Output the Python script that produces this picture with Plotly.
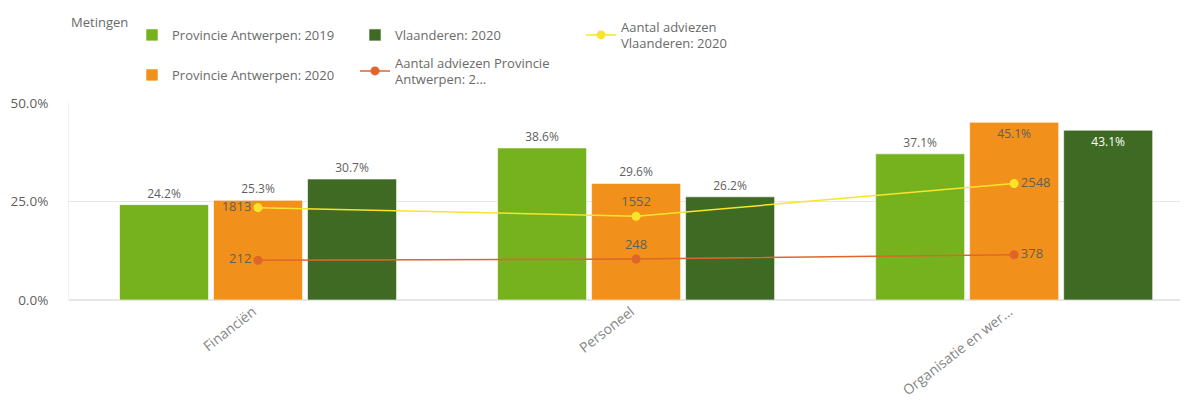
import plotly.graph_objects as go

categories = ["Financiën", "Personeel", "Organisatie en wer..."]

pa_2019 = [24.2, 38.6, 37.1]
pa_2020 = [25.3, 29.6, 45.1]
vl_2020 = [30.7, 26.2, 43.1]

adviezen_vl_2020 = [1813, 1552, 2548]
adviezen_pa_2020 = [212, 248, 378]

y_ticks = [0, 25, 50]
y_tick_labels = ["0.0%", "25.0%", "50.0%"]

GREEN = "#76B21E"
ORANGE = "#F2901C"
DARK = "#3F6A24"
YELLOW = "#F7E52C"
RED = "#E0652A"
GREY = "#5f5f5f"
FONT = "Open Sans"

W, H = 1188, 405
OFF = 8  # page body margin


def cx(px):
    return (px - OFF) / W


def cy(px):
    return 1 - (px - OFF) / H


fig = go.Figure()

bar_specs = [
    ("Provincie Antwerpen: 2019", pa_2019, GREEN, GREY, "legend"),
    ("Provincie Antwerpen: 2020", pa_2020, ORANGE, GREY, "legend4"),
    ("Vlaanderen: 2020", vl_2020, DARK, "white", "legend2"),
]
for name, vals, color, inside_col, leg in bar_specs:
    pos = ["inside" if v > 43 else "outside" for v in vals]
    fig.add_trace(go.Bar(
        x=categories,
        y=vals,
        name=name,
        marker_color=color,
        marker_line=dict(color="rgba(255,255,255,0.6)", width=1),
        texttemplate="%{y:.1f}%",
        textposition=pos,
        textangle=0,
        insidetextanchor="end",
        textfont=dict(size=12, color=GREY, family=FONT),
        insidetextfont=dict(size=12, color=inside_col, family=FONT),
        outsidetextfont=dict(size=12, color=GREY, family=FONT),
        cliponaxis=False,
        legend=leg,
    ))

fig.add_trace(go.Scatter(
    x=categories,
    y=adviezen_vl_2020,
    name="Aantal adviezen<br>Vlaanderen: 2020",
    yaxis="y2",
    mode="lines+markers+text",
    line=dict(color=YELLOW, width=1.5),
    marker=dict(size=9, color=YELLOW),
    text=[str(v) for v in adviezen_vl_2020],
    textposition=["middle left", "top center", "middle right"],
    textfont=dict(size=13, color=GREY, family=FONT),
    cliponaxis=False,
    legend="legend3",
))
fig.add_trace(go.Scatter(
    x=categories,
    y=adviezen_pa_2020,
    name="Aantal adviezen Provincie<br>Antwerpen: 2...",
    yaxis="y2",
    mode="lines+markers+text",
    line=dict(color=RED, width=1.5),
    marker=dict(size=9, color=RED),
    text=[str(v) for v in adviezen_pa_2020],
    textposition=["middle left", "top center", "middle right"],
    textfont=dict(size=13, color=GREY, family=FONT),
    cliponaxis=False,
    legend="legend5",
))

leg_font = dict(size=13, color="#6a6a6a", family=FONT)


def leg(xpx, ypx):
    return dict(
        xref="container", yref="container",
        x=cx(xpx), y=cy(ypx), xanchor="left", yanchor="middle",
        font=leg_font, bgcolor="rgba(0,0,0,0)",
    )


fig.update_layout(
    width=W,
    height=H,
    paper_bgcolor="white",
    plot_bgcolor="white",
    font=dict(family=FONT, color=GREY),
    margin=dict(l=61, r=0, t=95, b=113, autoexpand=False),
    barmode="group",
    bargap=0.254,
    bargroupgap=0.053,
    showlegend=True,
    legend=leg(132, 35),
    legend2=leg(355, 35),
    legend3=leg(581, 35),
    legend4=leg(132, 75),
    legend5=leg(355, 71),
    xaxis=dict(
        range=[-0.5, 2.481],
        tickangle=-38,
        ticklabelshift=-5,
        tickfont=dict(size=14, color="#858585", family=FONT),
        showgrid=False,
        showline=False,
    ),
    yaxis=dict(
        range=[0, 50],
        tickvals=y_ticks,
        ticktext=y_tick_labels,
        tickfont=dict(size=13.5, color=GREY, family=FONT),
        gridcolor="#e6e6e6",
        zeroline=True,
        zerolinecolor="#e6e6e6",
        showline=True,
        linecolor="#eeeeee",
        ticklabelstandoff=17,
    ),
    yaxis2=dict(
        overlaying="y",
        side="right",
        range=[-1000, 5000],
        visible=False,
    ),
    annotations=[dict(
        text="Metingen",
        xref="paper", yref="paper",
        x=0, y=(300 - 22) / 197,
        xanchor="left", yanchor="middle",
        showarrow=False,
        font=dict(size=13, color="#6a6a6a", family=FONT),
    )],
)

fig.write_html("out.html")
